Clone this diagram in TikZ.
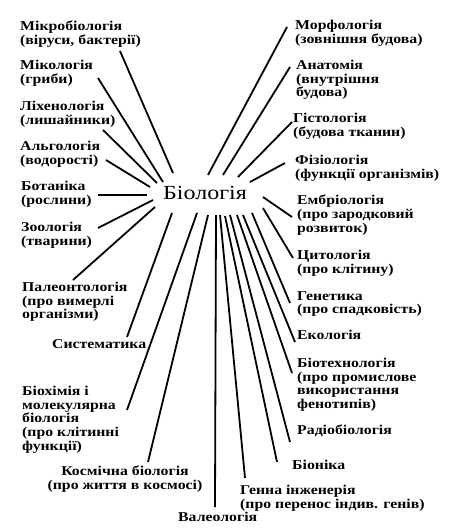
\documentclass[tikz,border=0pt]{standalone}
\usepackage{fontspec}
\setmainfont{Liberation Serif}
\newfontfamily\widefont[FakeStretch=1.17]{Liberation Serif}
\newfontfamily\hubfont[FakeStretch=1.2]{Liberation Serif}
\usepackage{tikz}
\usetikzlibrary{positioning}
\tikzset{
  branch/.style={line width=1.8pt},
  field/.style={anchor=north west, inner sep=0pt, align=left, font=\widefont\fontsize{13.5}{13.7}\selectfont\bfseries},
  hub/.style={inner sep=0pt, font=\hubfont\fontsize{20}{24}\selectfont}
}

\begin{document}
\begin{tikzpicture}[x=1pt, y=-1pt]
  \useasboundingbox (0,0) rectangle (456,528);
  \node[hub] (bio) at (205,193) {Біологія};
  % left side
  \node[field] (mikro) at (20,21) {Мікробіологія\\(віруси, бактерії)};
  \node[field] (miko) at (20,60) {Мікологія\\(гриби)};
  \node[field] (likhen) at (20,101) {Ліхенологія\\(лишайники)};
  \node[field] (alg) at (20,141) {Альгологія\\(водорості)};
  \node[field] (botan) at (21,181) {Ботаніка\\(рослини)};
  \node[field] (zoo) at (21,222) {Зоологія\\(тварини)};
  \node[field] (paleo) at (22,282) {Палеонтологія\\(про вимерлі\\організми)};
  \node[field] (syst) at (52,339) {Систематика};
  \node[field] (biochem) at (22,386) {Біохімія і\\молекулярна\\біологія\\(про клітинні\\функції)};
  \node[field, anchor=north, align=center] (kosm) at (125,466) {Космічна біологія\\(про життя в космосі)};
  \node[field] (valeo) at (178,512) {Валеологія};
  % right side
  \node[field] (genna) at (240,485) {Генна інженерія\\(про перенос індив. генів)};
  \node[field] (bionika) at (292,460) {Біоніка};
  \node[field] (radio) at (297,425) {Радіобіологія};
  \node[field] (biotech) at (297,358) {Біотехнологія\\(про промислове\\використання\\фенотипів)};
  \node[field] (eko) at (297,330) {Екологія};
  \node[field] (genet) at (297,291) {Генетика\\(про спадковість)};
  \node[field] (cyto) at (297,250) {Цитологія\\(про клітину)};
  \node[field] (embr) at (297,195) {Ембріологія\\(про зародковий\\розвиток)};
  \node[field] (fiz) at (295,155) {Фізіологія\\(функції організмів)};
  \node[field] (hist) at (293,113) {Гістологія\\(будова тканин)};
  \node[field] (anat) at (296,60) {Анатомія\\(внутрішня\\будова)};
  \node[field] (morf) at (295,20) {Морфологія\\(зовнішня будова)};

  \draw[branch] ([shift={(100,30)}]mikro.north west) -- ([shift={(-32,-20)}]bio.center);
  \draw[branch] ([shift={(78,18)}]miko.north west) -- ([shift={(-42,-11)}]bio.center);
  \draw[branch] ([shift={(83,29)}]likhen.north west) -- ([shift={(-48,-10)}]bio.center);
  \draw[branch] ([shift={(86,19)}]alg.north west) -- ([shift={(-55,-6)}]bio.center);
  \draw[branch] ([shift={(77,14)}]botan.north west) -- ([shift={(-58,2)}]bio.center);
  \draw[branch] ([shift={(77,6)}]zoo.north west) -- ([shift={(-52,7)}]bio.center);
  \draw[branch] ([shift={(51,-2)}]paleo.north west) -- ([shift={(-50,14)}]bio.center);
  \draw[branch] ([shift={(75,-2)}]syst.north west) -- ([shift={(-33,20)}]bio.center);
  \draw[branch] ([shift={(105,24)}]biochem.north west) -- ([shift={(-8,20)}]bio.center);
  \draw[branch] ([shift={(23,-4)}]kosm.north) -- ([shift={(3,22)}]bio.center);
  \draw[branch] ([shift={(37,-5)}]valeo.north west) -- ([shift={(11,22)}]bio.center);
  \draw[branch] ([shift={(5,-7)}]genna.north west) -- ([shift={(15,22)}]bio.center);
  \draw[branch] ([shift={(-15,2)}]bionika.north west) -- ([shift={(20,23)}]bio.center);
  \draw[branch] ([shift={(-7,17)}]radio.north west) -- ([shift={(25,22)}]bio.center);
  \draw[branch] ([shift={(-5,15)}]biotech.north west) -- ([shift={(32,22)}]bio.center);
  \draw[branch] ([shift={(-2,12)}]eko.north west) -- ([shift={(38,22)}]bio.center);
  \draw[branch] ([shift={(-7,12)}]genet.north west) -- ([shift={(47,20)}]bio.center);
  \draw[branch] ([shift={(-4,8)}]cyto.north west) -- ([shift={(58,15)}]bio.center);
  \draw[branch] ([shift={(-5,22)}]embr.north west) -- ([shift={(58,4)}]bio.center);
  \draw[branch] ([shift={(-10,8)}]fiz.north west) -- ([shift={(45,-11)}]bio.center);
  \draw[branch] ([shift={(-1,9)}]hist.north west) -- ([shift={(33,-16)}]bio.center);
  \draw[branch] ([shift={(-6,7)}]anat.north west) -- ([shift={(18,-18)}]bio.center);
  \draw[branch] ([shift={(-8,7)}]morf.north west) -- ([shift={(3,-18)}]bio.center);
\end{tikzpicture}
\end{document}
